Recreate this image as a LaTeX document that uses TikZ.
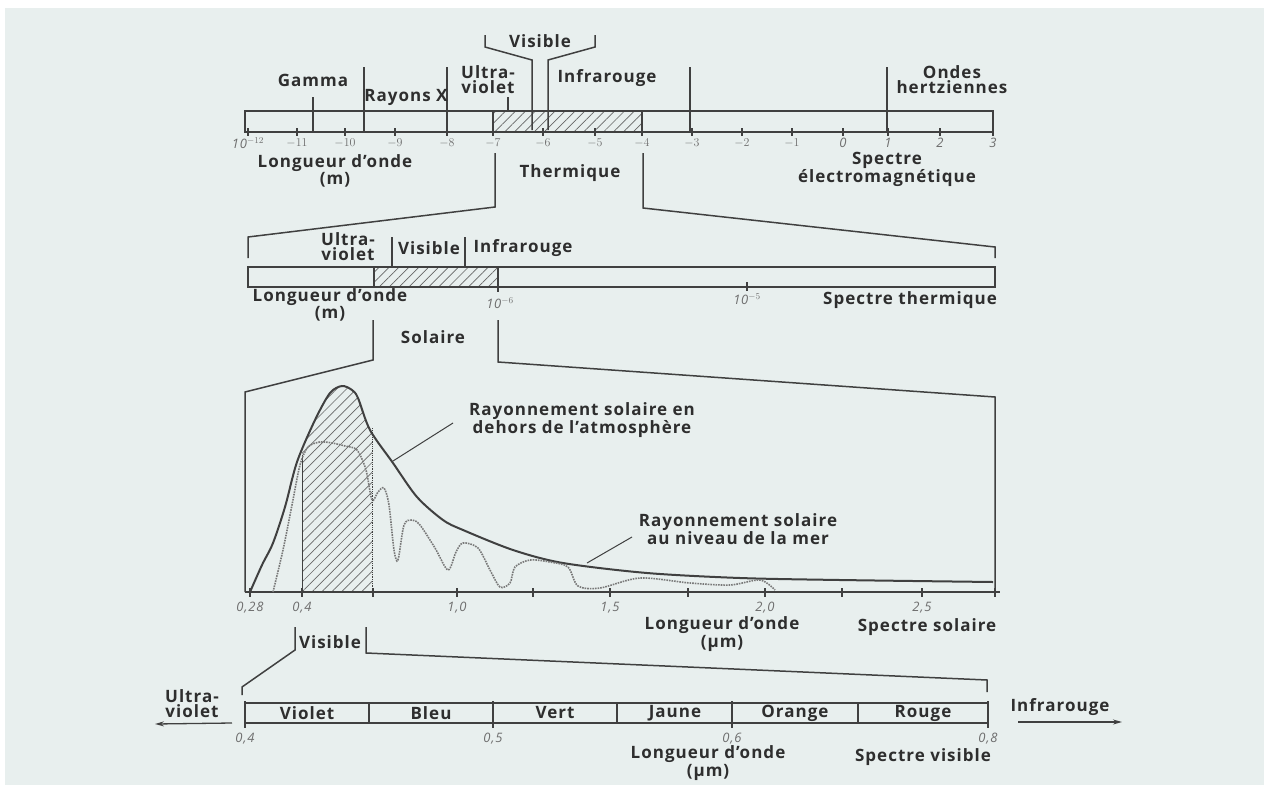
\documentclass[tikz,border=0pt]{standalone}
\usepackage{fontspec}
\setmainfont{Open Sans}[LetterSpace=6]
\usetikzlibrary{patterns.meta,arrows.meta}
\definecolor{bg}{HTML}{E8EFEE}
\definecolor{ink}{HTML}{2E2E2E}
\definecolor{pen}{HTML}{404040}
\definecolor{handc}{HTML}{6E6E6E}
\tikzset{
  lab/.style={font=\fontsize{17}{15}\selectfont\bfseries, text=ink, align=center, inner sep=0pt},
  hand/.style={font=\fontsize{13}{13}\selectfont\itshape, text=handc, inner sep=0pt},
  ln/.style={draw=pen, line width=1.5pt},
  barln/.style={draw=pen, line width=2.2pt},
  hatch/.style={pattern={Lines[angle=45,distance=7pt,line width=0.7pt]}, pattern color=pen!80},
}
\begin{document}
\begin{tikzpicture}[x=1pt,y=-1pt]
\useasboundingbox (0,0) rectangle (1264,785);
\fill[white] (0,0) rectangle (1264,785);
\fill[bg] (5,8) rectangle (1264,785);

% ================= TOP BAR : electromagnetic spectrum =================
\fill[hatch] (493,111) rectangle (642,132);
\draw[barln] (245,111) rectangle (993,132);
\draw[ln] (493,111) -- (493,132);
\draw[ln] (642,111) -- (642,132);
\foreach \x in {248,297,345,395,447,493,543,595,642,692,742,792,843,888,940,993}
  \draw[ln] (\x,128) -- (\x,136);
\foreach \x/\t in {248/10$^{-12}$,297/$-11$,345/$-10$,395/$-9$,447/$-8$,493/$-7$,543/$-6$,595/$-5$,642/$-4$,692/$-3$,742/$-2$,792/$-1$,843/0,888/1,940/2,993/3}
  \node[hand] at (\x,143) {\t};
% dividers
\draw[ln] (364,67) -- (364,132);
\draw[ln] (447,67) -- (447,132);
\draw[ln] (690,67) -- (690,132);
\draw[ln] (887,67) -- (887,132);
\draw[ln] (313,97) -- (313,132);
\draw[ln] (508,97) -- (508,111);
% visible bracket
\draw[ln] (485,35) -- (485,47) -- (532,60) -- (532,130);
\draw[ln] (595,35) -- (595,47) -- (548,60) -- (548,130);
\node[lab] (tvis1) at (540,41) {Visible};
\node[lab] (tgam) at (313,80) {Gamma};
\node[lab] (tx) at (406,97) {Rayons X};
\node[lab] (tuv1) at (488,80) {Ultra-\\violet};
\node[lab] (tir1) at (607,78) {Infrarouge};
\node[lab] (thz) at (952,80) {Ondes\\hertziennes};
\node[lab] (tlo1) at (335,171) {Longueur d'onde\\(m)};
\node[lab] (tth) at (570,173) {Thermique};
\node[lab] (tem) at (887,169) {Spectre\\électromagnétique};

% thermal zoom lines
\draw[ln] (495,153) -- (495,207) -- (248,237) -- (248,258);
\draw[ln] (643,153) -- (643,208) -- (995,247) -- (995,258);

% ================= MIDDLE BAR : thermal spectrum =================
\fill[hatch] (374,267) rectangle (498,287);
\draw[barln] (248,267) rectangle (995,287);
\draw[ln] (374,267) -- (374,287);
\draw[ln] (498,267) -- (498,287);
\draw[ln] (392,237) -- (392,267);
\draw[ln] (465,237) -- (465,267);
\draw[ln] (498,284) -- (498,292);
\draw[ln] (747,282) -- (747,291);
\node[hand] at (500,303) {10$^{-6}$};
\node[hand] at (747,299) {10$^{-5}$};
\node[lab] (tuv2) at (348,247) {Ultra-\\violet};
\node[lab] (tvis2) at (429,248) {Visible};
\node[lab] (tir2) at (523,248) {Infrarouge};
\node[lab] (tlo2) at (330,305) {Longueur d'onde\\(m)};
\node[lab] (tsth) at (910,300) {Spectre thermique};

% solar zoom lines
\node[lab] (tsol) at (433,337) {Solaire};
\draw[ln] (373,320) -- (373,360) -- (245,392) -- (245,592);
\draw[ln] (498,320) -- (498,362) -- (995,397) -- (995,592);

% ================= GRAPH : solar spectrum =================
\begin{scope}
  \clip (302,370) rectangle (372,592);
  \fill[hatch] plot[smooth] coordinates {(250,592) (262,565) (273,543) (285,507) (297,462) (315,420) (330,393) (342,386) (352,390) (358,398) (370,430) (393,463) (417,497) (443,520) (463,530) (513,550) (563,563) (647,573) (740,578) (840,580) (993,582)} -- (993,592) -- cycle;
\end{scope}
\draw[draw=pen, line width=0.8pt] (302,455) -- (302,592);
\draw[draw=pen, line width=0.8pt, densely dotted] (372,428) -- (372,592);
% axis
\draw[ln] (245,592) -- (1000,592);
\foreach \x in {250,302,373,457,533,610,688,765,842,922,995}
  \draw[ln] (\x,588) -- (\x,597);
\foreach \x/\t in {250/{0,28},302/{0,4},457/{1,0},610/{1,5},765/{2,0},922/{2,5}}
  \node[hand] at (\x,608) {\t};
% curve outside atmosphere
\draw[draw=pen, line width=2pt] plot[smooth] coordinates {(250,592) (262,565) (273,543) (285,507) (297,462) (315,420) (330,393) (342,386) (352,390) (358,398) (370,430) (393,463) (417,497) (443,520) (463,530) (513,550) (563,563) (647,573) (740,578) (840,580) (993,582)};
% curve at sea level
\draw[draw=pen!70, line width=1.6pt, densely dotted] plot[smooth] coordinates {(273,592) (283,550) (292,505) (300,465) (308,447) (320,442) (332,443) (345,446) (357,450) (366,470) (372,500) (378,492) (384,488) (389,505) (394,550) (398,560) (404,525) (412,520) (420,525) (435,548) (448,570) (456,552) (463,543) (478,548) (490,570) (500,587) (510,583) (515,567) (530,560) (550,562) (568,567) (578,586) (600,588) (640,578) (690,583) (730,585) (760,580) (775,590)};
\node[lab] (tout) at (582,420) {Rayonnement solaire en\\dehors de l'atmosphère};
\node[lab] (tsea) at (738,529) {Rayonnement solaire\\au niveau de la mer};
\coordinate (pout) at (393,461);
\coordinate (psea) at (587,563);
\draw[draw=pen, line width=1pt] (453,423) -- (pout);
\draw[draw=pen, line width=1pt] (632,537) -- (psea);
\node[lab] (tlo3) at (722,634) {Longueur d'onde\\(µm)};
\node[lab] (tssol) at (927,627) {Spectre solaire};

% visible zoom lines
\node[lab] (tvis3) at (330,642) {Visible};
\draw[ln] (295,627) -- (295,650) -- (242,687) -- (242,695);
\draw[ln] (366,627) -- (366,653) -- (987,680) -- (987,692);

% ================= BOTTOM BAR : visible spectrum =================
\draw[barln] (245,703) rectangle (988,723);
\foreach \x in {369,617,858}
  \draw[ln] (\x,703) -- (\x,723);
\foreach \x in {245,493,732,988}
  \draw[draw=pen, line width=2.6pt] (\x,701) -- (\x,728);
\node[lab] (cv) at (307,713) {Violet};
\node[lab] (cb) at (431,713) {Bleu};
\node[lab] (cg) at (555,713) {Vert};
\node[lab] (cj) at (675,713) {Jaune};
\node[lab] (co) at (795,713) {Orange};
\node[lab] (cr) at (923,713) {Rouge};
\foreach \x/\t in {245/{0,4},493/{0,5},732/{0,6},988/{0,8}}
  \node[hand] at (\x,739) {\t};
\node[lab] (tlo4) at (708,763) {Longueur d'onde\\(µm)};
\node[lab] (tsvis) at (923,757) {Spectre visible};
\node[lab] (tuv4) at (192,704) {Ultra-\\violet};
\node[lab] (tir4) at (1060,707) {Infrarouge};
\coordinate (al1) at (232,723);
\coordinate (al2) at (155,724);
\coordinate (ar1) at (1018,722);
\coordinate (ar2) at (1122,722);
\draw[draw=pen, line width=1.3pt, -{Stealth[length=9pt,width=5pt]}] (al1) -- (al2);
\draw[draw=pen, line width=1.3pt, -{Stealth[length=9pt,width=5pt]}] (ar1) -- (ar2);
\end{tikzpicture}
\end{document}
